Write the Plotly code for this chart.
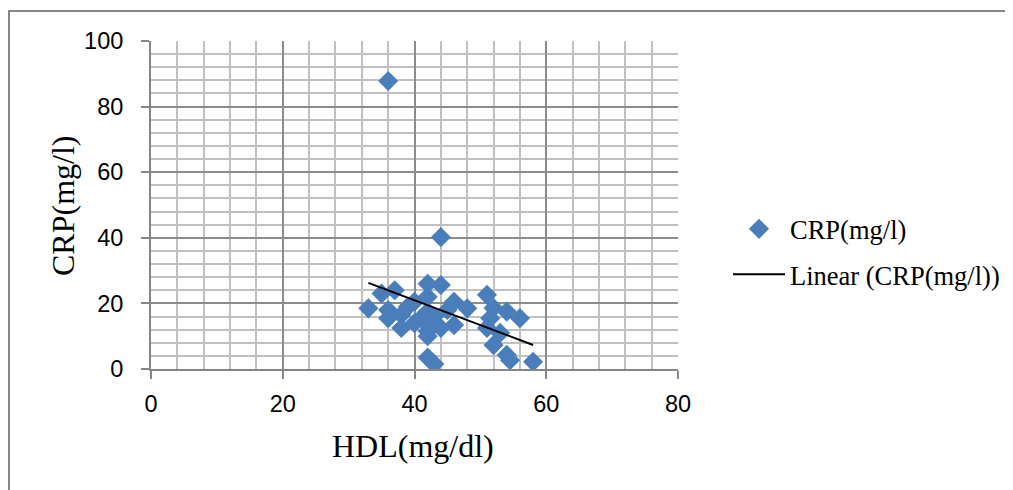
import numpy as np
import plotly.graph_objects as go

hdl = [33, 35, 36, 36, 36, 37, 38, 38, 39, 40, 41, 42, 42, 42, 42, 42, 42, 43, 43,
       44, 44, 44, 45, 46, 46, 48, 51, 51, 51.5, 52, 52, 53, 54, 54, 54.5, 56, 58, 40, 43]
crp = [18.5, 23, 87.8, 18, 15.5, 24, 12.5, 16.5, 19, 20.5, 15.5, 26, 22, 17.5, 11.5, 10, 3.5, 1.5, 14,
       25.6, 40.2, 12.5, 18, 20.5, 13.4, 18.5, 22.6, 12.5, 15.5, 18.6, 7.3, 11, 17.5, 4.3, 2.7, 15.5, 2.2, 14, 16]

series_name = "CRP(mg/l)"
trend_name = "Linear (CRP(mg/l))"
x_title = "HDL(mg/dl)"
y_title = "CRP(mg/l)"

slope, intercept = np.polyfit(hdl, crp, 1)
tx = [min(hdl), max(hdl)]
ty = [slope * v + intercept for v in tx]

fig = go.Figure()
fig.add_trace(go.Scatter(
    x=hdl, y=crp, mode="markers", name=series_name, legendgroup="a",
    marker=dict(symbol="diamond", size=15.5, color="#4A7EBB", line=dict(width=0)),
))
fig.add_trace(go.Scatter(
    x=tx, y=ty, mode="lines", name=trend_name, legendgroup="b",
    line=dict(color="black", width=2),
))

serif = "Liberation Serif, Times New Roman, serif"
sans = "Liberation Sans, Arial, sans-serif"

L, T, W, H = 143, 33, 527, 328

fig.update_layout(
    width=1013, height=490,
    margin=dict(l=L, r=1013 - L - W, t=T, b=490 - T - H),
    paper_bgcolor="white", plot_bgcolor="white",
    showlegend=True,
    legend=dict(x=(720 - L) / W, y=0.358, xanchor="left", yanchor="middle",
                font=dict(family=serif, size=26.5, color="black"),
                bgcolor="rgba(0,0,0,0)", traceorder="grouped", tracegroupgap=8,
                itemwidth=52),
    xaxis=dict(
        range=[0, 80], tickvals=[0, 20, 40, 60, 80], ticks="outside", ticklen=8,
        tickcolor="#868686", tickwidth=2, showline=True, linecolor="#868686", linewidth=2,
        showgrid=True, gridcolor="#8c8c8c", gridwidth=2,
        minor=dict(dtick=4, showgrid=True, gridcolor="#c0c0c0", gridwidth=2, ticks=""),
        tickfont=dict(family=sans, size=23.5, color="black"), ticklabelstandoff=5,
        zeroline=False,
    ),
    yaxis=dict(
        range=[0, 100], tickvals=[0, 20, 40, 60, 80, 100], ticks="outside", ticklen=8,
        tickcolor="#868686", tickwidth=2, showline=True, linecolor="#868686", linewidth=2,
        showgrid=True, gridcolor="#8c8c8c", gridwidth=2,
        minor=dict(dtick=4, showgrid=True, gridcolor="#c0c0c0", gridwidth=2, ticks=""),
        tickfont=dict(family=sans, size=23.5, color="black"), ticklabelstandoff=13,
        zeroline=False,
    ),
    annotations=[
        dict(text=x_title, xref="paper", yref="paper", x=(405 - L) / W, y=(T + H - 438) / H,
             xanchor="center", yanchor="middle", showarrow=False,
             font=dict(family=serif, size=32, color="black")),
        dict(text=y_title, xref="paper", yref="paper", x=(55 - L) / W, y=(T + H - 198) / H,
             xanchor="center", yanchor="middle", showarrow=False, textangle=-90,
             font=dict(family=serif, size=32, color="black")),
    ],
    shapes=[dict(type="rect", xref="paper", yref="paper",
                 x0=(1 - L) / W, x1=(1012 - L) / W,
                 y0=(T + H - 489) / H, y1=(T + H - 3) / H,
                 line=dict(color="#868686", width=2), layer="below")],
)

fig.write_html("out.html")
